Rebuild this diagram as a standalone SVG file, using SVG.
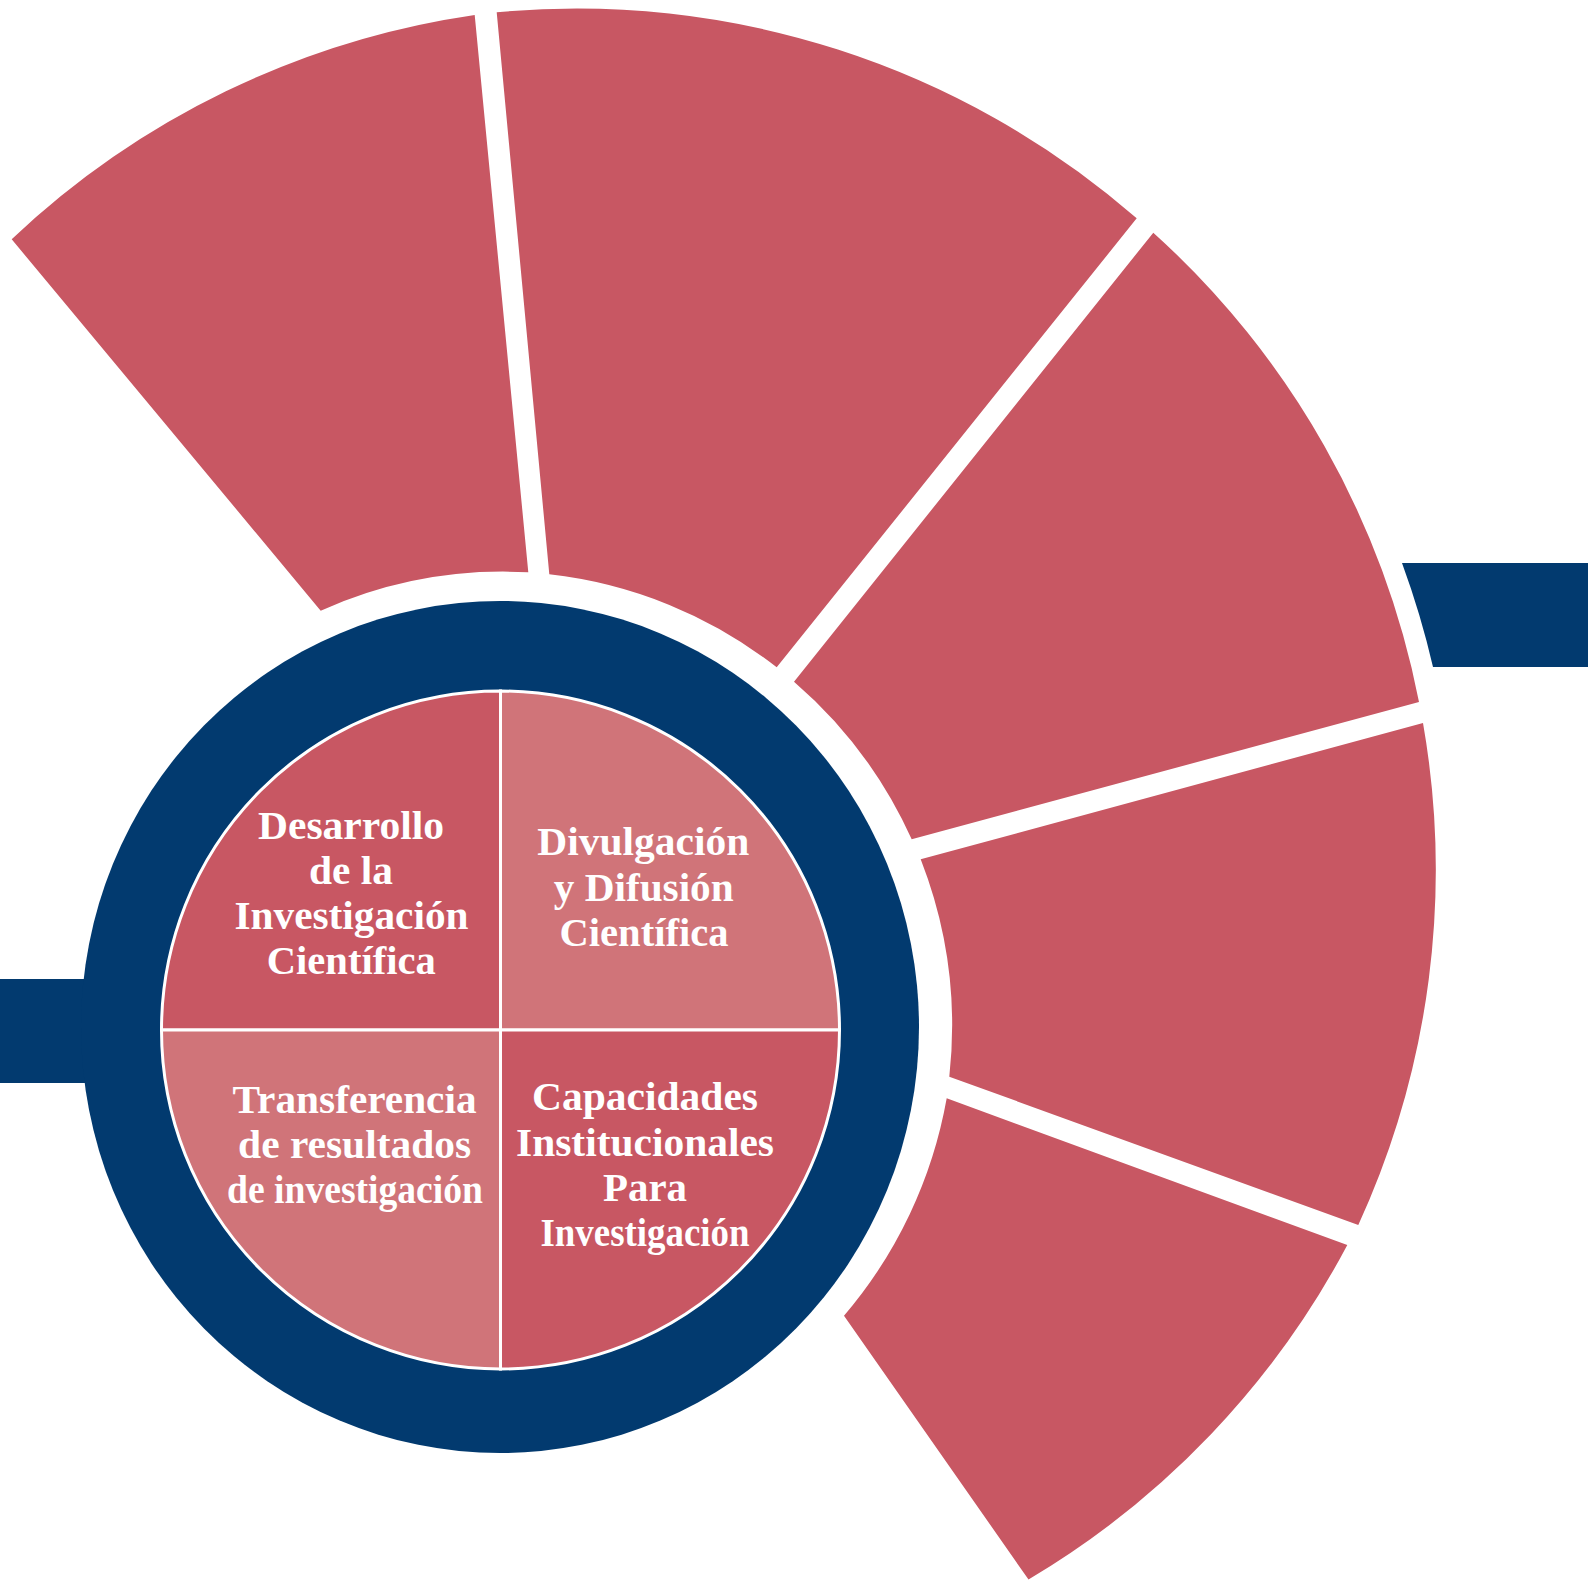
<svg xmlns="http://www.w3.org/2000/svg" width="1588" height="1580" viewBox="0 0 1588 1580">
<style>
.seg{fill:#C85763;}
.navy{fill:#023A6F;}
.qd{fill:#C85763;stroke:#FFFFFF;stroke-width:3;}
.ql{fill:#D07479;stroke:#FFFFFF;stroke-width:3;}
.lbl{font-family:"Liberation Serif","Times New Roman",serif;font-weight:bold;font-size:41px;fill:#FFFFFF;text-anchor:middle;}
</style>
<rect width="1588" height="1580" fill="#FFFFFF"/>
<g id="outer-segments">
<path id="seg1" class="seg" d="M320.7,610.7 L11.7,239.3 A852,852 0 0 1 474.7,15 L528.3,572.3 A452,456 0 0 0 320.7,610.7 Z"/>
<path id="seg2" class="seg" d="M549.3,574.3 L496.7,12.3 A852,852 0 0 1 1136.7,218.3 L776.7,667.3 A452,456 0 0 0 549.3,574.3 Z"/>
<path id="seg3" class="seg" d="M794,681.7 L1153.3,232.7 A852,852 0 0 1 1419,702 L911.7,839.3 A452,456 0 0 0 794,681.7 Z"/>
<path id="seg4" class="seg" d="M920.7,859.3 L1423,723 A852,852 0 0 1 1358.3,1225 L949.3,1076.7 A452,456 0 0 0 920.7,859.3 Z"/>
<path id="seg5" class="seg" d="M946.7,1098.3 L1347.3,1245 A852,852 0 0 1 1028.5,1579.5 L844,1315.7 A452,456 0 0 0 946.7,1098.3 Z"/>
</g>
<g id="bars">
<path id="bar-right" class="navy" d="M1402,563 L1588,563 L1588,667 L1433,667 A875,875 0 0 0 1402,563 Z"/>
<rect id="bar-left" class="navy" x="0" y="979" width="160" height="104"/>
</g>
<g id="hub">
<ellipse id="ring" class="navy" cx="500" cy="1027" rx="419" ry="426"/>
<g id="q-desarrollo">
<path class="qd" d="M500.5,1030 L161.5,1030 A339,339 0 0 1 500.5,691 Z"/>
<text class="lbl"><tspan x="351" y="838.5" textLength="186" lengthAdjust="spacingAndGlyphs">Desarrollo</tspan><tspan x="351" y="884" textLength="84" lengthAdjust="spacingAndGlyphs">de la</tspan><tspan x="351.5" y="929.3" textLength="234" lengthAdjust="spacingAndGlyphs">Investigación</tspan><tspan x="351.3" y="974" textLength="169" lengthAdjust="spacingAndGlyphs">Científica</tspan></text>
</g>
<g id="q-divulgacion">
<path class="ql" d="M500.5,1030 L500.5,691 A339,339 0 0 1 839.5,1030 Z"/>
<text class="lbl"><tspan x="643.3" y="855" textLength="212" lengthAdjust="spacingAndGlyphs">Divulgación</tspan><tspan x="643.7" y="900.7" textLength="180" lengthAdjust="spacingAndGlyphs">y Difusión</tspan><tspan x="644" y="946" textLength="169" lengthAdjust="spacingAndGlyphs">Científica</tspan></text>
</g>
<g id="q-capacidades">
<path class="qd" d="M500.5,1030 L839.5,1030 A339,339 0 0 1 500.5,1369 Z"/>
<text class="lbl"><tspan x="645" y="1110" textLength="226" lengthAdjust="spacingAndGlyphs">Capacidades</tspan><tspan x="645" y="1155.7" textLength="258" lengthAdjust="spacingAndGlyphs">Institucionales</tspan><tspan x="645" y="1201" textLength="84" lengthAdjust="spacingAndGlyphs">Para</tspan><tspan x="645" y="1246" textLength="209" lengthAdjust="spacingAndGlyphs">Investigación</tspan></text>
</g>
<g id="q-transferencia">
<path class="ql" d="M500.5,1030 L500.5,1369 A339,339 0 0 1 161.5,1030 Z"/>
<text class="lbl"><tspan x="354.6" y="1112.7" textLength="244" lengthAdjust="spacingAndGlyphs">Transferencia</tspan><tspan x="354.6" y="1158.3" textLength="233" lengthAdjust="spacingAndGlyphs">de resultados</tspan><tspan x="355" y="1203.3" textLength="256" lengthAdjust="spacingAndGlyphs">de investigación</tspan></text>
</g>
</g>
</svg>
